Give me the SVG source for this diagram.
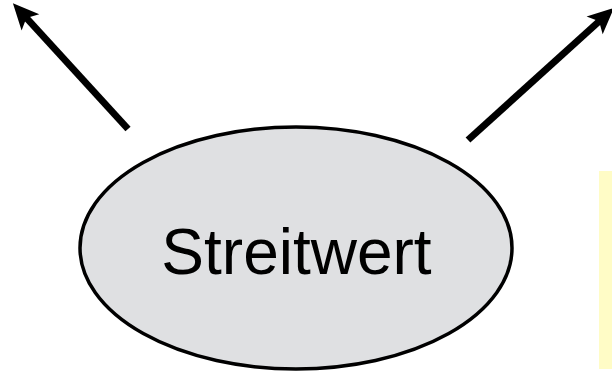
<svg xmlns="http://www.w3.org/2000/svg" width="612" height="374" viewBox="0 0 612 374">
<style>
.conn{stroke:#000;stroke-width:7;fill:none;marker-end:url(#ah)}
.node{fill:#dfe0e2;stroke:#000;stroke-width:3.5}
.lbl{font-family:"Liberation Sans",Arial,sans-serif;font-size:64px;fill:#000;text-anchor:middle}
</style>
<defs>
<marker id="ah" markerUnits="userSpaceOnUse" viewBox="-16 -13 30 26" markerWidth="30" markerHeight="26" refX="0" refY="0" orient="auto" overflow="visible">
<path d="M12,0 L-14,-12 L-8,0 L-14,12 Z" fill="#000"/>
</marker>
</defs>
<rect x="599" y="171" width="16" height="198" fill="#fffcc6"/>
<g id="connectors">
<line class="conn" x1="128" y1="129" x2="21" y2="12"/>
<line class="conn" x1="468" y1="140" x2="605" y2="16"/>
</g>
<g id="streitwert">
<ellipse class="node" cx="296" cy="248" rx="216" ry="121"/>
<text class="lbl" x="296.5" y="274">Streitwert</text>
</g>
</svg>
